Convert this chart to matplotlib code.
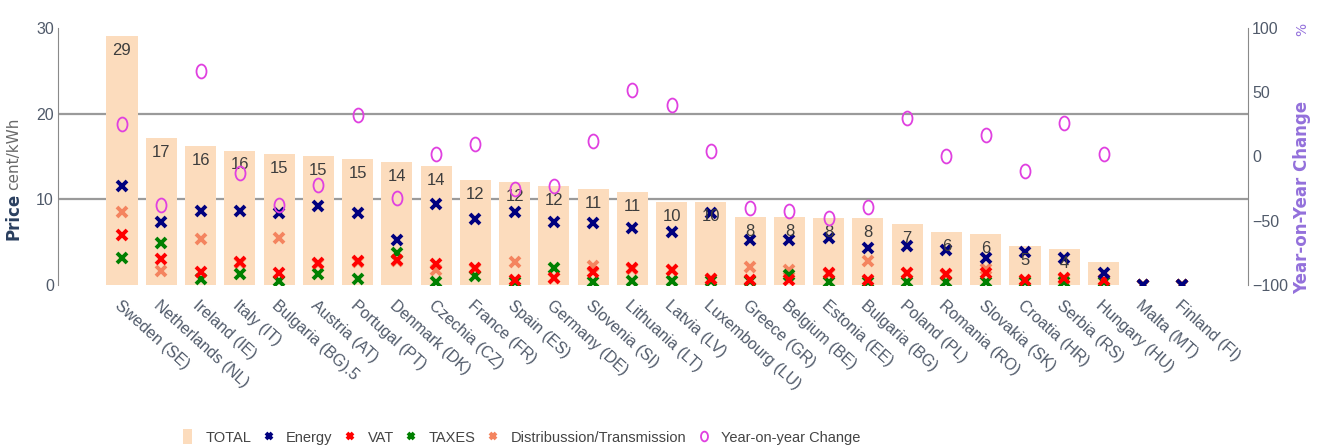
import numpy as np
import matplotlib
matplotlib.use("Agg")
import matplotlib.pyplot as plt
from matplotlib.path import Path
from matplotlib.transforms import Affine2D

plt.rcParams['font.family'] = ['Liberation Sans', 'DejaVu Sans']

countries = ['Sweden (SE)', 'Netherlands (NL)', 'Ireland (IE)', 'Italy (IT)', 'Bulgaria (BG).5',
             'Austria (AT)', 'Portugal (PT)', 'Denmark (DK)', 'Czechia (CZ)', 'France (FR)',
             'Spain (ES)', 'Germany (DE)', 'Slovenia (SI)', 'Lithuania (LT)', 'Latvia (LV)',
             'Luxembourg (LU)', 'Greece (GR)', 'Belgium (BE)', 'Estonia (EE)', 'Bulgaria (BG)',
             'Poland (PL)', 'Romania (RO)', 'Slovakia (SK)', 'Croatia (HR)', 'Serbia (RS)',
             'Hungary (HU)', 'Malta (MT)', 'Finland (FI)']

total = [29.1, 17.2, 16.25, 15.7, 15.25, 15.1, 14.7, 14.4, 13.9, 12.2, 12.05, 11.6, 11.2, 10.8,
         9.7, 9.65, 7.97, 7.97, 7.78, 7.78, 7.1, 6.2, 6.0, 4.6, 4.17, 2.65, 0.0, 0.0]
energy = [11.55, 7.4, 8.6, 8.6, 8.37, 9.2, 8.37, 5.25, 9.5, 7.7, 8.5, 7.4, 7.2, 6.7,
          6.2, 8.45, 5.25, 5.25, 5.45, 4.28, 4.55, 4.08, 3.2, 3.9, 3.1, 1.44, 0.0, 0.0]
vat = [5.83, 3.0, 1.48, 2.7, 1.44, 2.6, 2.8, 2.9, 2.4, 1.95, 0.58, 0.8, 1.5, 1.95,
       1.75, 0.7, 0.58, 0.58, 1.36, 0.58, 1.44, 1.28, 1.36, 0.58, 0.78, 0.58, 0.0, 0.0]
taxes = [3.19, 4.94, 0.66, 1.25, 0.5, 1.25, 0.7, 3.77, 0.3, 1.0, 0.4, 2.0, 0.4, 0.47,
         0.47, 0.5, 0.5, 1.2, 0.4, 0.4, 0.4, 0.4, 0.4, 0.4, 0.4, 0.4, 0.0, 0.0]
distribution = [8.55, 1.67, 5.4, 2.6, 5.52, 2.5, 2.7, 2.8, 1.8, 1.9, 2.7, 0.8, 2.2, 1.9,
                1.7, 0.7, 2.1, 1.75, 1.3, 2.84, 1.4, 1.2, 1.9, 0.5, 0.7, 0.5, 0.0, 0.0]
yoy = [25, -37.7, 66.5, -13, -37.7, -22, 32.3, -32, 1.7, 9.7, -25.3, -23, 12, 51.7,
       40, 4.5, -39.8, -42.4, -48, -39, 29.7, 0, 16.7, -11.3, 26.3, 2, np.nan, np.nan]

x = np.arange(len(countries))

# slightly tall open ellipse for the year-on-year markers
oval = Path.unit_circle().transformed(Affine2D().scale(0.72, 1.0))

tick_color = '#505a6a'
fig = plt.figure(figsize=(13.2, 4.48), dpi=100)
ax = fig.add_axes([58 / 1320, 1 - 285 / 448, (1248 - 58) / 1320, (285 - 28) / 448])
ax2 = ax.twinx()

ax.bar(x, total, width=0.79, color='#fcdcbd', label='TOTAL', zorder=2)
ax.axhline(10, color='#9a9a9a', lw=1.6, zorder=1)
ax.axhline(20, color='#9a9a9a', lw=1.6, zorder=1)

ms = 6.5
mew = 2.8
ax.plot(x, distribution, 'x', color='#f4845f', ms=ms, mew=mew, label='Distribussion/Transmission', zorder=3)
ax.plot(x, taxes, 'x', color='#008000', ms=ms, mew=mew, label='TAXES', zorder=4)
ax.plot(x, vat, 'x', color='#ff0000', ms=ms, mew=mew, label='VAT', zorder=5)
ax.plot(x, energy, 'x', color='#00007f', ms=ms, mew=mew, label='Energy', zorder=6)

for xi, t in zip(x, total):
    if t >= 4:
        ax.annotate(f'{round(t):d}', xy=(xi, t), xytext=(0, -5), textcoords='offset points',
                    ha='center', va='top', fontsize=12, color='#3d3d3d', zorder=7)

ax2.plot(x, yoy, linestyle='none', marker=oval, ms=10, mfc='none', mec='#e040e0', mew=1.3,
         label='Year-on-year Change')

ax.set_xlim(-1.63, 28.68)
ax.set_ylim(0, 30)
ax2.set_ylim(-100, 100)
ax.set_yticks([0, 10, 20, 30])
ax2.set_yticks([-100, -50, 0, 50, 100])
ax2.set_yticklabels(['\u2212100', '\u221250', '0', '50', '100'])

ax.set_xticks(x)
ax.set_xticklabels(countries, rotation=-42, ha='left', va='top', rotation_mode='anchor',
                   fontsize=11.5, color=tick_color)
ax.tick_params(axis='x', length=0, pad=9)
ax.tick_params(axis='y', length=0, pad=3, labelsize=11.5, labelcolor=tick_color)
ax2.tick_params(axis='y', length=0, pad=3, labelsize=11.5, labelcolor=tick_color)

for a in (ax, ax2):
    for side in ('top', 'bottom'):
        a.spines[side].set_visible(False)
    a.spines['left'].set_color('#8a8a8a')
    a.spines['right'].set_color('#8a8a8a')
ax.spines['right'].set_visible(False)
ax2.spines['left'].set_visible(False)

# axis titles: bold name plus a lighter unit
fig.text(14 / 1320, 1 - 240 / 448, 'Price', rotation=90, rotation_mode='anchor', ha='left', va='center',
         fontsize=12, fontweight='bold', color='#2a3f5f', family=['DejaVu Sans'])
fig.text(14 / 1320, 1 - 190 / 448, 'cent/kWh', rotation=90, rotation_mode='anchor', ha='left', va='center',
         fontsize=11, color='#6a6a6a', family=['DejaVu Sans'])
fig.text(1302 / 1320, 1 - 294 / 448, 'Year-on-Year Change', rotation=90, rotation_mode='anchor',
         ha='left', va='center', fontsize=12, fontweight='bold', color='#9370db', family=['DejaVu Sans'])
fig.text(1302 / 1320, 1 - 36 / 448, '%', rotation=90, rotation_mode='anchor', ha='left', va='center',
         fontsize=10, color='#9370db', family=['DejaVu Sans'])

h1, l1 = ax.get_legend_handles_labels()
h2, l2 = ax2.get_legend_handles_labels()
handles = dict(zip(l1 + l2, h1 + h2))
order = ['TOTAL', 'Energy', 'VAT', 'TAXES', 'Distribussion/Transmission', 'Year-on-year Change']
leg = fig.legend([handles[k] for k in order], order, loc='center', bbox_to_anchor=(522 / 1320, 1 - 437 / 448),
                 ncol=6, frameon=False, fontsize=10.5, handlelength=0.6, handleheight=1.2, handletextpad=0.9,
                 columnspacing=0.9, markerscale=0.7)
for t in leg.get_texts():
    t.set_color('#444444')

fig.savefig('out.png', dpi=100)
